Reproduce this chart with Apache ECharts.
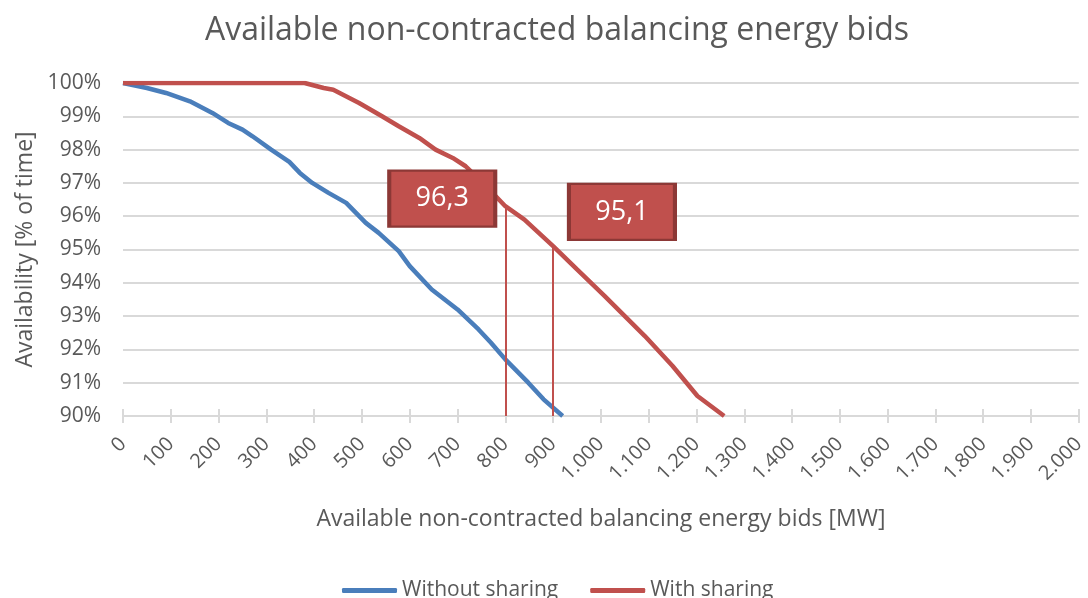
<!DOCTYPE html>
<html>
<head>
<meta charset="utf-8">
<script src="https://cdn.jsdelivr.net/npm/echarts@6/dist/echarts.min.js"></script>
<style>html,body{margin:0;padding:0;background:#fff;}#c{width:1088px;height:598px;}</style>
</head>
<body>
<div id="c"></div>
<script>
const titleText = 'Available non-contracted balancing energy bids';
const xAxisName = 'Available non-contracted balancing energy bids [MW]';
const yAxisName = 'Availability [% of time]';
const seriesNames = ['Without sharing', 'With sharing'];

const withoutX = [0, 50, 90, 140, 187, 220, 250, 271, 310, 348, 370, 396, 430, 467, 508, 535, 577, 600, 646, 700, 744, 770, 800, 848, 880, 920];
const withoutY = [100, 99.85, 99.7, 99.45, 99.1, 98.8, 98.6, 98.4, 98.0, 97.63, 97.3, 97.0, 96.7, 96.4, 95.8, 95.5, 94.95, 94.5, 93.8, 93.2, 92.6, 92.2, 91.7, 91.0, 90.5, 90.0];

const withX = [0, 380, 420, 440, 494, 542, 577, 620, 654, 690, 717, 760, 800, 840, 900, 950, 1008, 1050, 1092, 1150, 1202, 1258];
const withY = [100, 100, 99.85, 99.8, 99.4, 99.0, 98.7, 98.35, 98.0, 97.75, 97.5, 96.9, 96.3, 95.9, 95.1, 94.4, 93.6, 93.0, 92.4, 91.5, 90.6, 90.0];

// annotations: [x (MW), value, label]
const annotX = [800, 900];
const annotY = [96.3, 95.1];
const annotLabels = ['96,3', '95,1'];
// label box centres in data coordinates
const boxX = [668, 1044];
const boxY = [96.53, 96.13];

const FONT = 'Open Sans';
const GREY = '#595959';

function fmtThousands(v) {
  return String(v).replace(/\B(?=(\d{3})+(?!\d))/g, '.');
}

const chart = echarts.init(document.getElementById('c'));
chart.setOption({
  animation: false,
  backgroundColor: '#fff',
  textStyle: { fontFamily: FONT },
  title: {
    text: titleText,
    left: 552, textAlign: 'center',
    top: 10,
    textStyle: { fontFamily: FONT, fontSize: 32, fontWeight: 'normal', color: GREY }
  },
  legend: {
    top: 575,
    left: 337,
    itemWidth: 55,
    itemHeight: 5,
    itemGap: 32,
    icon: 'roundRect',
    textStyle: { fontFamily: FONT, fontSize: 21, color: GREY },
    data: seriesNames
  },
  grid: { left: 123, right: 5, top: 83, bottom: 182, containLabel: false },
  xAxis: [{
    type: 'value',
    min: 0, max: 2000, interval: 100,
    name: xAxisName,
    nameLocation: 'middle',
    nameGap: 92,
    nameTextStyle: { fontFamily: FONT, fontSize: 23, color: GREY },
    axisLine: { show: true, lineStyle: { color: '#d9d9d9', width: 2 } },
    axisTick: { show: true, length: 7, lineStyle: { color: '#d9d9d9', width: 2 } },
    axisLabel: { rotate: 45, fontSize: 20, color: GREY, margin: 25, formatter: fmtThousands, hideOverlap: false },
    splitLine: { show: false }
  }, {
    type: 'value',
    position: 'bottom',
    min: 0, max: 2000, interval: 100,
    axisLine: { show: false },
    axisTick: { show: true, inside: true, length: 7, lineStyle: { color: '#d9d9d9', width: 2 } },
    axisLabel: { show: false },
    splitLine: { show: false }
  }],
  yAxis: {
    type: 'value',
    min: 90, max: 100, interval: 1,
    name: yAxisName,
    nameLocation: 'middle',
    nameGap: 79,
    nameTextStyle: { fontFamily: FONT, fontSize: 23, color: GREY },
    axisLine: { show: false },
    axisTick: { show: false },
    axisLabel: { fontSize: 21, color: GREY, margin: 22, formatter: v => v + '%' },
    splitLine: { lineStyle: { color: '#d9d9d9', width: 2 } }
  },
  series: [{
    name: seriesNames[0],
    type: 'line',
    color: '#4a7ebb',
    showSymbol: false,
    lineStyle: { width: 4.5, color: '#4a7ebb' },
    data: withoutX.map((x, i) => [x, withoutY[i]]),
    z: 3
  }, {
    name: seriesNames[1],
    type: 'line',
    color: '#c0504d',
    showSymbol: false,
    lineStyle: { width: 4.5, color: '#c0504d' },
    data: withX.map((x, i) => [x, withY[i]]),
    z: 4,
    markLine: {
      silent: true,
      symbol: 'none',
      label: { show: false },
      lineStyle: { color: '#c0504d', width: 2, type: 'solid' },
      data: annotX.map((x, i) => [{ coord: [x, annotY[i]] }, { coord: [x, 90] }])
    },
    markPoint: {
      silent: true,
      symbol: 'rect',
      symbolSize: [106, 56],
      itemStyle: { color: '#c0504d', borderColor: '#8c3836', borderWidth: 3 },
      label: { show: true, position: 'inside', color: '#fff', fontSize: 27, fontFamily: FONT },
      data: boxX.map((x, i) => ({ coord: [x, boxY[i]], value: annotLabels[i], label: { formatter: annotLabels[i] } }))
    }
  }]
});
</script>
</body>
</html>
